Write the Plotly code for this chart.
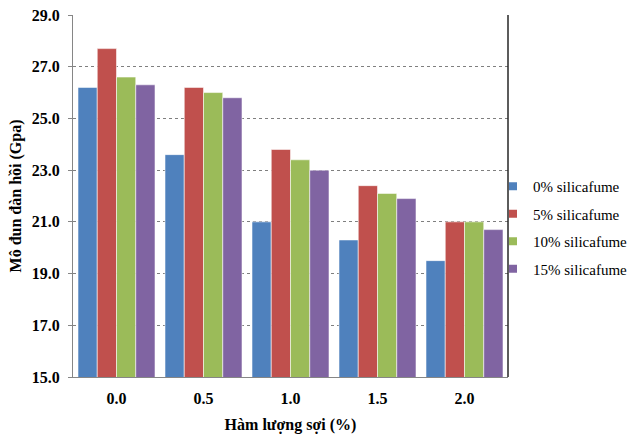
import plotly.graph_objects as go

# Fibre content (%) on the x axis
fiber = ["0.0", "0.5", "1.0", "1.5", "2.0"]

# Elastic modulus (GPa) for each silica-fume dosage
sf0 = [26.2, 23.6, 21.0, 20.3, 19.5]
sf5 = [27.7, 26.2, 23.8, 22.4, 21.0]
sf10 = [26.6, 26.0, 23.4, 22.1, 21.0]
sf15 = [26.3, 25.8, 23.0, 21.9, 20.7]

names = ["0% silicafume", "5% silicafume", "10% silicafume", "15% silicafume"]
colors = ["#4F81BD", "#C0504D", "#9BBB59", "#8064A2"]
series = [sf0, sf5, sf10, sf15]

FONT = "Liberation Serif"

fig = go.Figure()
for i, (name, col, vals) in enumerate(zip(names, colors, series)):
    fig.add_trace(go.Bar(
        x=fiber, y=vals, name=name,
        marker=dict(color=col, line=dict(color="rgba(255,255,255,0.55)", width=1)),
        showlegend=False,
    ))
    # small square legend key
    fig.add_trace(go.Scatter(
        x=[None], y=[None], mode="markers", name=name,
        marker=dict(symbol="square", size=8, color=col),
        legendgroup=f"g{i}", showlegend=True,
    ))

fig.update_layout(
    width=631, height=434,
    margin=dict(l=73, r=123, t=15, b=57, autoexpand=False),
    paper_bgcolor="white", plot_bgcolor="white",
    barmode="group", bargap=0.115, bargroupgap=0,
    font=dict(family=FONT, color="black"),
    legend=dict(
        xref="container", yref="container",
        x=493 / 631, y=1 - 170 / 434, xanchor="left", yanchor="top",
        font=dict(family=FONT, size=15, color="black"),
        tracegroupgap=5, itemwidth=30,
        bgcolor="rgba(0,0,0,0)",
    ),
    xaxis=dict(
        type="category", automargin=False,
        showline=True, linecolor="#868686", linewidth=1,
        ticks="", showgrid=False, ticklabelstandoff=7,
        tickfont=dict(family=FONT, size=16, color="black", weight="bold"),
        title=dict(text="Hàm lượng sợi (%)", standoff=12,
                   font=dict(family=FONT, size=16, color="black", weight="bold")),
    ),
    yaxis=dict(
        range=[15, 29], dtick=2, tick0=15, tickformat=".1f", automargin=False,
        showline=True, linecolor="#868686", linewidth=1,
        ticks="outside", ticklen=4, tickcolor="#868686", ticklabelstandoff=5,
        showgrid=True, gridcolor="#7F7F7F", griddash="dot", gridwidth=1,
        zeroline=False,
        tickfont=dict(family=FONT, size=16, color="black", weight="bold"),
        title=dict(text="Mô đun đàn hồi (Gpa)", standoff=6,
                   font=dict(family=FONT, size=16, color="black", weight="bold")),
    ),
    shapes=[
        dict(type="line", xref="paper", yref="paper", x0=1, x1=1, y0=0, y1=1,
             line=dict(color="#262626", width=1.5)),
    ],
)

fig.write_html("out.html")
